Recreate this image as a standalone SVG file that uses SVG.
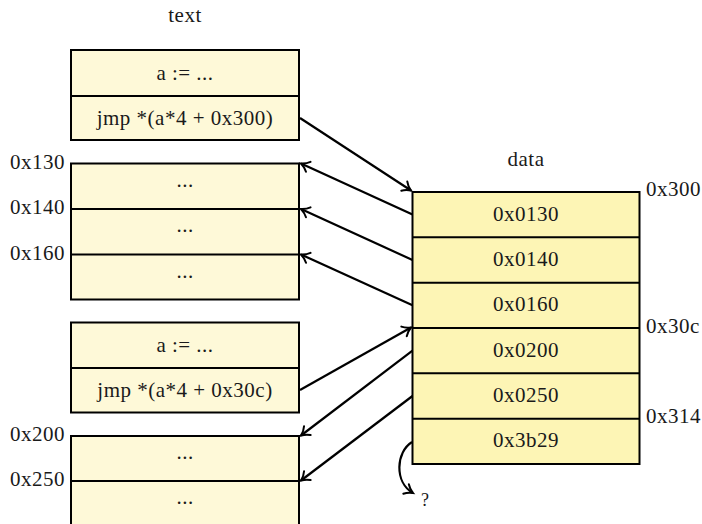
<svg xmlns="http://www.w3.org/2000/svg" width="702" height="524" viewBox="0 0 702 524">
<style>
.tb{fill:#fef9d8;stroke:#000;stroke-width:2}
.db{fill:#fdf5b5;stroke:#000;stroke-width:2}
.dv{stroke:#000;stroke-width:2}
text{font-family:"Liberation Serif","DejaVu Serif",serif;font-size:21px;letter-spacing:0.5px;fill:#1a1a1a}
.c{text-anchor:middle}
.r{text-anchor:end}
.ar{fill:none;stroke:#000;stroke-width:2.2;marker-end:url(#ah)}
</style>
<defs>
<marker id="ah" markerUnits="userSpaceOnUse" markerWidth="14" markerHeight="14" viewBox="-10 -7 12 14" refX="0" refY="0" orient="auto">
<path d="M-8,-5.5 C-5,-2 -1.5,-0.6 0,0 C-1.5,0.6 -5,2 -8,5.5" fill="none" stroke="#000" stroke-width="2" stroke-linecap="round"/>
</marker>
</defs>
<text class="c" x="185" y="22">text</text>
<text class="c" x="526" y="166">data</text>

<g id="code1">
<rect class="tb" x="71" y="50" width="228" height="90"/>
<line class="dv" x1="71" y1="96" x2="299" y2="96"/>
<text class="c" x="185" y="80">a := ...</text>
<text class="c" x="185" y="125">jmp *(a*4 + 0x300)</text>
</g>

<g id="targets1">
<rect class="tb" x="71" y="163.5" width="228" height="136"/>
<line class="dv" x1="71" y1="209" x2="299" y2="209"/>
<line class="dv" x1="71" y1="254.5" x2="299" y2="254.5"/>
<text class="c" x="185" y="187">...</text>
<text class="c" x="185" y="232">...</text>
<text class="c" x="185" y="278">...</text>
<text class="r" x="65" y="168.5">0x130</text>
<text class="r" x="65" y="214">0x140</text>
<text class="r" x="65" y="259.5">0x160</text>
</g>

<g id="code2">
<rect class="tb" x="71" y="322.5" width="228" height="90"/>
<line class="dv" x1="71" y1="368" x2="299" y2="368"/>
<text class="c" x="185" y="352">a := ...</text>
<text class="c" x="185" y="397">jmp *(a*4 + 0x30c)</text>
</g>

<g id="targets2">
<rect class="tb" x="71" y="436" width="228" height="100"/>
<line class="dv" x1="71" y1="481" x2="299" y2="481"/>
<text class="c" x="185" y="459">...</text>
<text class="c" x="185" y="504">...</text>
<text class="r" x="65" y="441">0x200</text>
<text class="r" x="65" y="486">0x250</text>
</g>

<g id="table">
<rect class="db" x="412.5" y="192" width="227" height="272"/>
<line class="dv" x1="412.5" y1="237.3" x2="639.5" y2="237.3"/>
<line class="dv" x1="412.5" y1="282.7" x2="639.5" y2="282.7"/>
<line class="dv" x1="412.5" y1="328" x2="639.5" y2="328"/>
<line class="dv" x1="412.5" y1="373.3" x2="639.5" y2="373.3"/>
<line class="dv" x1="412.5" y1="418.7" x2="639.5" y2="418.7"/>
<text class="c" x="526" y="221">0x0130</text>
<text class="c" x="526" y="266">0x0140</text>
<text class="c" x="526" y="311">0x0160</text>
<text class="c" x="526" y="356.5">0x0200</text>
<text class="c" x="526" y="401.5">0x0250</text>
<text class="c" x="526" y="447">0x3b29</text>
<text x="646" y="196">0x300</text>
<text x="646" y="333">0x30c</text>
<text x="646" y="423">0x314</text>
</g>

<g id="connectors">
<line class="ar" x1="300" y1="118" x2="411" y2="190.5"/>
<line class="ar" x1="412.5" y1="214.5" x2="301" y2="163.5"/>
<line class="ar" x1="412.5" y1="260" x2="301" y2="209"/>
<line class="ar" x1="412.5" y1="305.3" x2="301" y2="254.5"/>
<line class="ar" x1="300" y1="390" x2="411" y2="327.5"/>
<line class="ar" x1="412.5" y1="350.7" x2="301" y2="435.5"/>
<line class="ar" x1="412.5" y1="396" x2="301" y2="480.5"/>
<path class="ar" d="M412,442 C396,452 394,482 413,493"/>
<text x="421" y="506" style="font-size:18px">?</text>
</g>
</svg>
